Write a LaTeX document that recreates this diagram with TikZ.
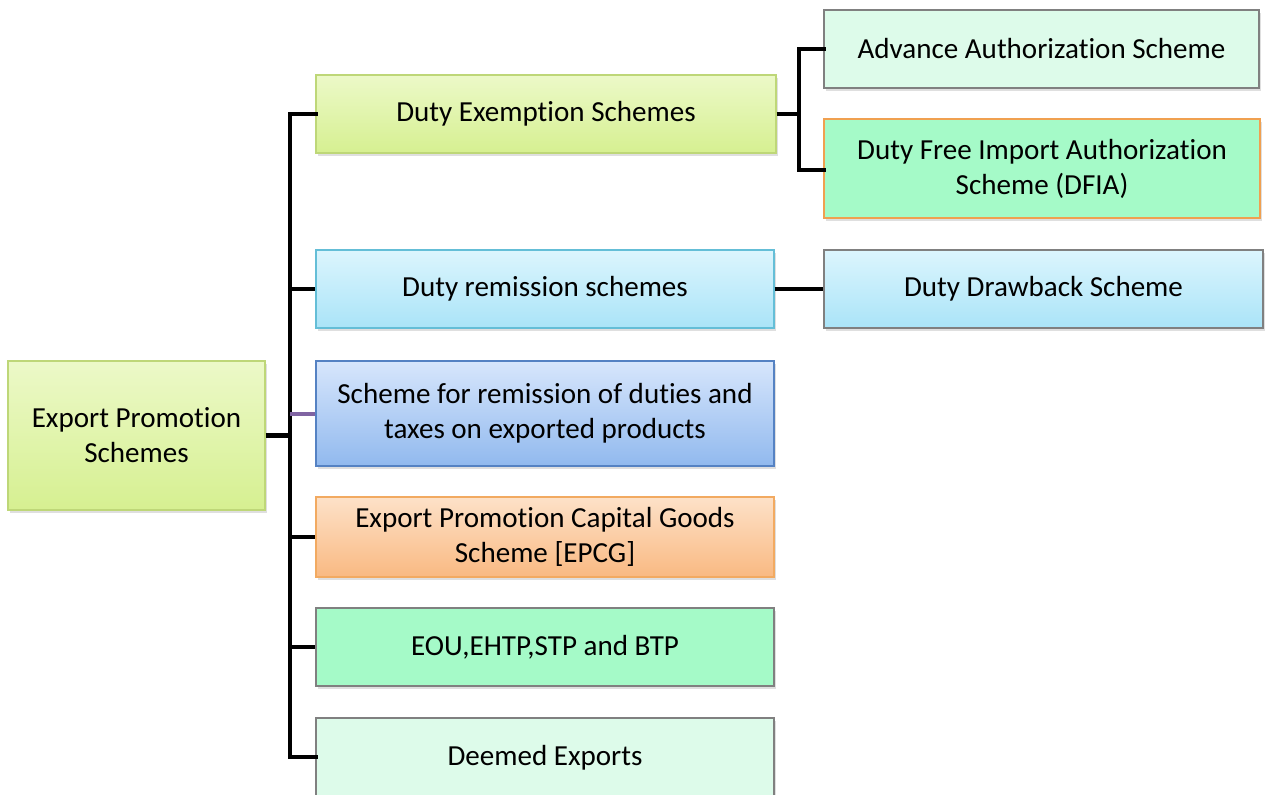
\documentclass[tikz,border=0pt]{standalone}
\usepackage{fontspec}
\setmainfont{Carlito}[Ligatures={NoCommon}]
\usetikzlibrary{shadows}
\definecolor{ygA}{RGB}{236,249,200}
\definecolor{ygB}{RGB}{214,240,145}
\definecolor{ygD}{RGB}{190,215,120}
\definecolor{mintL}{RGB}{221,251,234}
\definecolor{mintM}{RGB}{165,250,200}
\definecolor{grayD}{RGB}{128,128,128}
\definecolor{orD}{RGB}{240,160,80}
\definecolor{ltbA}{RGB}{220,245,253}
\definecolor{ltbB}{RGB}{170,228,248}
\definecolor{ltbD}{RGB}{100,190,215}
\definecolor{bluA}{RGB}{215,230,252}
\definecolor{bluB}{RGB}{145,185,238}
\definecolor{bluD}{RGB}{85,130,195}
\definecolor{orA}{RGB}{253,225,200}
\definecolor{orB}{RGB}{249,185,130}
\definecolor{purp}{RGB}{128,100,162}
\tikzset{
  x=0.75pt, y=-0.75pt,
  box/.style={rectangle, draw, line width=0.9pt, align=center, inner sep=0pt,
    font=\fontsize{21.8}{26.2}\selectfont,
    drop shadow={shadow xshift=1.5pt, shadow yshift=-2pt, opacity=0.25}},
  ygbox/.style={box, draw=ygD, top color=ygA, bottom color=ygB},
  mintlbox/.style={box, draw=grayD, fill=mintL},
  mintmbox/.style={box, fill=mintM},
  ltbbox/.style={box, top color=ltbA, bottom color=ltbB},
  blubox/.style={box, draw=bluD, top color=bluA, bottom color=bluB},
  orbox/.style={box, draw=orD!90, top color=orA, bottom color=orB},
  conn/.style={line width=3.5pt, black},
}
\begin{document}
\begin{tikzpicture}
\useasboundingbox (0,0) rectangle (1266,794);
% nodes
\node[ygbox, minimum width=257*0.75pt, minimum height=149*0.75pt] (root) at (136.5,435.5) {Export Promotion\\Schemes};
\node[ygbox, minimum width=460*0.75pt, minimum height=78*0.75pt] (dex) at (546,114) {Duty Exemption Schemes};
\node[ltbbox, draw=ltbD, minimum width=458*0.75pt, minimum height=78*0.75pt] (drem) at (545,289) {Duty remission schemes};
\node[blubox, minimum width=458*0.75pt, minimum height=105*0.75pt] (srem) at (545,413.5) {Scheme for remission of duties and\\taxes on exported products};
\node[orbox, minimum width=458*0.75pt, minimum height=80*0.75pt] (epcg) at (545,537) {Export Promotion Capital Goods\\Scheme [EPCG]};
\node[mintmbox, draw=grayD, minimum width=458*0.75pt, minimum height=78*0.75pt] (eou) at (545,647) {EOU,EHTP,STP and BTP};
\node[mintlbox, minimum width=458*0.75pt, minimum height=80*0.75pt] (deem) at (545,758) {Deemed Exports};
\node[mintlbox, minimum width=435*0.75pt, minimum height=78*0.75pt] (adv) at (1041.5,49) {Advance Authorization Scheme};
\node[mintmbox, draw=orD, minimum width=436*0.75pt, minimum height=99*0.75pt] (dfia) at (1042,168.5) {Duty Free Import Authorization\\Scheme (DFIA)};
\node[ltbbox, draw=grayD, minimum width=439*0.75pt, minimum height=78*0.75pt] (ddb) at (1043.5,289) {Duty Drawback Scheme};
% connector coordinates
\coordinate (trT) at (290,114);
\coordinate (trB) at (290,757);
\coordinate (trM) at (290,435.5);
\coordinate (bx) at (799,114);
% connectors
\draw[conn] (root.east) -- (trM);
\draw[conn, line cap=rect] (dex.west) -- (trT) -- (trB) -- (deem.west |- trB);
\draw[conn] (trT |- drem.west) -- (drem.west);
\draw[line width=3pt, purp] (trT |- srem.west) -- (srem.west);
\draw[conn] (trT |- epcg.west) -- (epcg.west);
\draw[conn] (trT |- eou.west) -- (eou.west);
\draw[conn] (dex.east) -- (bx);
\draw[conn, line cap=rect] (adv.west) -- (bx |- adv.west) -- (bx |- 0,170) -- (dfia.west |- 0,170);
\draw[conn] (drem.east) -- (ddb.west);
\end{tikzpicture}
\end{document}
